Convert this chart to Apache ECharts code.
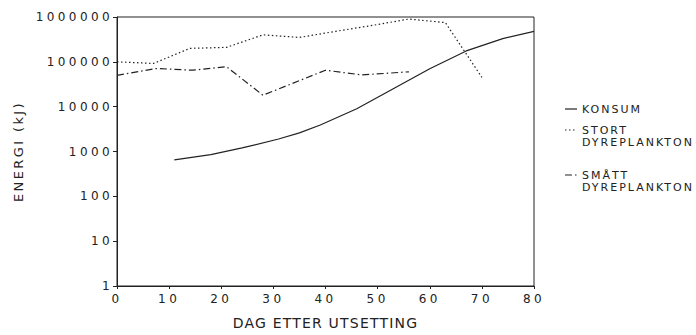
<!DOCTYPE html>
<html>
<head>
<meta charset="utf-8">
<script src="https://cdn.jsdelivr.net/npm/echarts@6/dist/echarts.min.js"></script>
<style>
  html, body { margin: 0; padding: 0; background: #fff; }
  #chart { width: 696px; height: 335px; }
  /* plotter-style wide lettering, keyed on each text group's font size */
  #chart text[style*="12px"] { letter-spacing: 3.4px; }
  #chart text[style*="14px"] { letter-spacing: 1.2px; }
  #chart text[style*="13px"] { letter-spacing: 2.4px; }
  #chart text[style*="11px"] { letter-spacing: 2px; }
</style>
</head>
<body>
<div id="chart"></div>
<script>
// Energy (kJ) by day after stocking
const konsumDays = [11, 18, 24, 31, 35, 39, 46, 53, 60, 67, 74, 80];
const konsumKJ   = [650, 850, 1200, 1900, 2600, 3900, 9000, 25000, 70000, 175000, 330000, 480000];

const stortDays = [0, 7, 14, 21, 28, 35, 42, 49, 56, 63, 70];
const stortKJ   = [100000, 92000, 200000, 210000, 400000, 350000, 480000, 650000, 900000, 750000, 45000];

const smattDays = [0, 7.5, 14.5, 21, 28, 40, 47, 56];
const smattKJ   = [50000, 71000, 65000, 78000, 18000, 65000, 51000, 60000];

const xTicks = [0, 10, 20, 30, 40, 50, 60, 70, 80];
const yTicks = [1, 10, 100, 1000, 10000, 100000, 1000000];

const legendNames = ['KONSUM', 'STORT\nDYREPLANKTON', 'SMÅTT\nDYREPLANKTON'];

const FONT = 'DejaVu Sans';
const INK = '#222';

const pairs = (xs, ys) => xs.map((x, i) => [x, ys[i]]);

const lineStyles = [
  { type: 'solid' },
  { type: [1.5, 2.5] },
  { type: [7, 3, 1.5, 3] }
];

const chart = echarts.init(document.getElementById('chart'), null, { renderer: 'svg' });

// legend drawn as short line samples with labels to the right
const legendTop = [109, 130, 175];
const legendGraphics = [];
legendNames.forEach((name, i) => {
  legendGraphics.push({
    type: 'line',
    shape: { x1: 565, y1: legendTop[i], x2: 577, y2: legendTop[i] },
    style: { stroke: INK, lineWidth: 1.2, lineDash: i === 0 ? null : lineStyles[i].type }
  });
  legendGraphics.push({
    type: 'text',
    left: 582,
    top: legendTop[i] - 6,
    style: {
      text: name,
      fill: INK,
      font: '11px "' + FONT + '"',
      lineHeight: 12.5
    }
  });
});

chart.setOption({
  animation: false,
  backgroundColor: '#fff',
  grid: {
    left: 117, right: 162, top: 17, bottom: 45,
    show: true, borderColor: INK, borderWidth: 1
  },
  xAxis: {
    type: 'value',
    min: 0, max: 80, interval: 10,
    name: 'DAG ETTER UTSETTING',
    nameLocation: 'middle',
    nameGap: 30,
    nameTextStyle: { fontFamily: FONT, fontSize: 14, color: INK },
    axisLine: { onZero: false, lineStyle: { color: INK, width: 1 } },
    axisTick: { show: true, length: 3, lineStyle: { color: INK } },
    axisLabel: {
      fontFamily: FONT, fontSize: 12, color: INK, margin: 7,
      formatter: v => xTicks.includes(v) ? String(v) : ''
    },
    splitLine: { show: false }
  },
  yAxis: {
    type: 'log',
    logBase: 10,
    min: 1, max: 1000000,
    name: 'ENERGI (kJ)',
    nameLocation: 'middle',
    nameRotate: 90,
    nameGap: 92,
    nameTextStyle: { fontFamily: FONT, fontSize: 13, color: INK },
    axisLine: { show: true, lineStyle: { color: INK, width: 1 } },
    axisTick: { show: true, length: 4, lineStyle: { color: INK } },
    minorTick: { show: false },
    axisLabel: {
      fontFamily: FONT, fontSize: 12, color: INK, margin: 4,
      formatter: v => String(Math.round(v))
    },
    splitLine: { show: false }
  },
  series: [
    {
      name: legendNames[0], type: 'line', data: pairs(konsumDays, konsumKJ),
      showSymbol: false, smooth: false,
      lineStyle: Object.assign({ color: INK, width: 1.2 }, lineStyles[0])
    },
    {
      name: legendNames[1], type: 'line', data: pairs(stortDays, stortKJ),
      showSymbol: false, smooth: false,
      lineStyle: Object.assign({ color: INK, width: 1.2 }, lineStyles[1])
    },
    {
      name: legendNames[2], type: 'line', data: pairs(smattDays, smattKJ),
      showSymbol: false, smooth: false,
      lineStyle: Object.assign({ color: INK, width: 1.2 }, lineStyles[2])
    }
  ],
  graphic: legendGraphics
});
</script>
</body>
</html>
